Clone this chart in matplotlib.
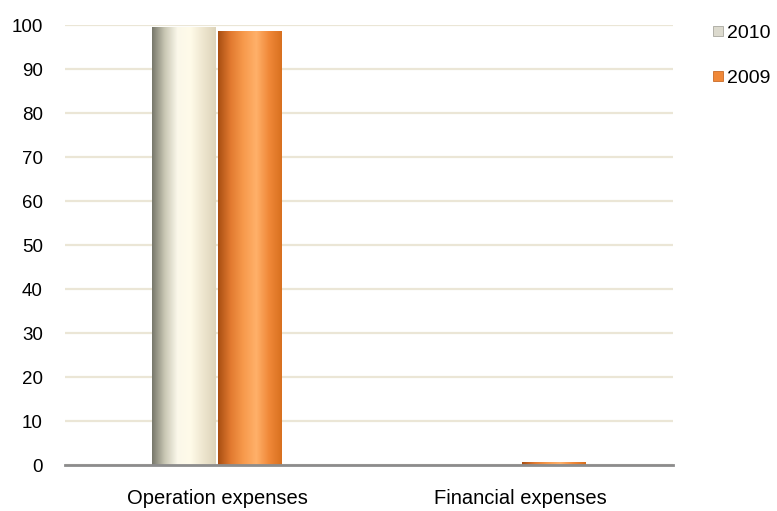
import numpy as np
import matplotlib.pyplot as plt
from matplotlib.colors import LinearSegmentedColormap
from matplotlib.patches import Patch

plt.rcParams['font.family'] = ['Liberation Sans', 'DejaVu Sans']

categories = ["Operation expenses", "Financial expenses"]
series = ["2010", "2009"]
values_2010 = [99.5, 0.0]
values_2009 = [98.6, 0.6]

cmap_2010 = LinearSegmentedColormap.from_list(
    "c2010", ["#77776a", "#c9c7b4", "#fbf8ea", "#fffbe9", "#eee6cf", "#ddd4ba"])
cmap_2009 = LinearSegmentedColormap.from_list(
    "c2009", ["#a84e12", "#e27a30", "#f79a4c", "#ffb06a", "#f08838", "#d8701f"])

fig = plt.figure(figsize=(7.77, 5.11), dpi=100)
ax = fig.add_axes([0.0837, 0.09, 0.782, 0.861])

x = np.arange(len(categories))
w = 0.21
bars1 = ax.bar(x - w / 2 - 0.003, values_2010, w, color="#f5f1df", zorder=2)
bars2 = ax.bar(x + w / 2 + 0.003, values_2009, w, color="#f08838", zorder=2)

# cylinder-like horizontal gradient on each bar
grad = np.linspace(0, 1, 256).reshape(1, -1)
for bars, cm in [(bars1, cmap_2010), (bars2, cmap_2009)]:
    for b in bars:
        h = b.get_height()
        if h <= 0:
            continue
        x0 = b.get_x()
        im = ax.imshow(grad, cmap=cm, aspect="auto", zorder=3,
                       extent=(x0, x0 + b.get_width(), 0, h))
        im.set_clip_path(b)

ax.set_xlim(-0.5, 1.5)
ax.set_ylim(0, 100)
ax.set_yticks(np.arange(0, 101, 10))
ax.set_xticks(x)
ax.set_xticklabels(categories)
ax.yaxis.grid(True, color="#ebe6d6", linewidth=1.6, zorder=0)
ax.set_axisbelow(True)
for s in ["top", "right", "left"]:
    ax.spines[s].set_visible(False)
ax.spines["bottom"].set_color("#8c8c8c")
ax.spines["bottom"].set_linewidth(2)
ax.spines["bottom"].set_zorder(4)
ax.tick_params(axis="both", length=0, colors="black")
ax.tick_params(axis="y", pad=16, labelsize=13.5)
ax.tick_params(axis="x", pad=17, labelsize=14.5)

handles = [Patch(facecolor="#dcdace", edgecolor="#9a9a90", linewidth=0.5),
           Patch(facecolor="#f08838", edgecolor="#c05a10", linewidth=0.5)]
fig.legend(handles, series, loc="upper left", bbox_to_anchor=(0.895, 0.985),
           frameon=False, fontsize=14, handlelength=0.5, handleheight=0.45,
           handletextpad=0.25, labelspacing=1.42)

fig.savefig("out.png", dpi=100)
